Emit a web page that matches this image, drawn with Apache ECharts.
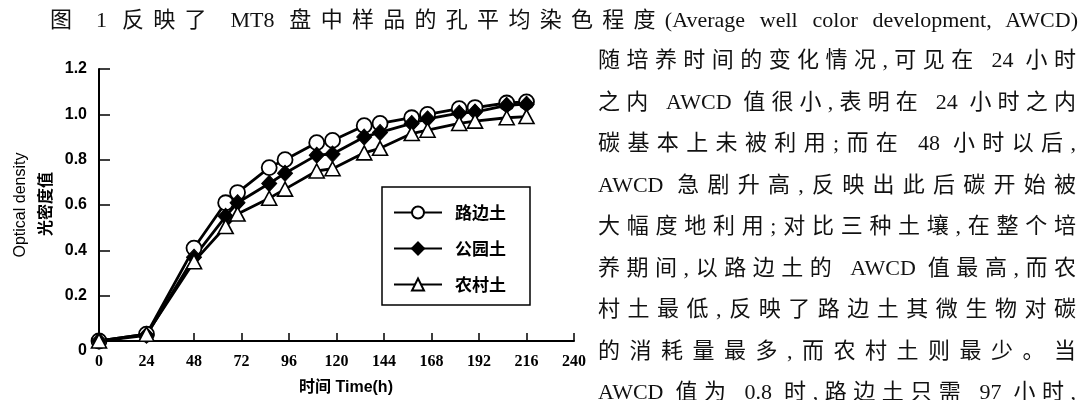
<!DOCTYPE html>
<html>
<head>
<meta charset="utf-8">
<script src="https://cdn.jsdelivr.net/npm/echarts@6/dist/echarts.min.js"></script>
<style>
  html, body { margin: 0; padding: 0; background: #fff; }
  #page { position: relative; width: 1082px; height: 400px; overflow: hidden; background: #fff; }
  #chart { position: absolute; left: 0; top: 0; width: 1082px; height: 400px; }
  .line {
    position: absolute; height: 30px; line-height: 30px; white-space: nowrap;
    font-family: "Liberation Serif", "Noto Sans CJK SC", serif;
    font-size: 22px; color: #111;
    text-align: justify; text-align-last: justify;
  }
</style>
</head>
<body>
<div id="page">
  <div id="chart"></div>
</div>
<script>
// Incubation time (h) at each reading
const hours = [0, 24, 48, 64, 70, 86, 94, 110, 118, 134, 142, 158, 166, 182, 190, 206, 216];
// Average well color development (optical density) per soil
const roadside = [0, 0.03, 0.41, 0.61, 0.655, 0.765, 0.80, 0.875, 0.885, 0.95, 0.96, 0.985, 1.00, 1.025, 1.03, 1.05, 1.055];
const park     = [0, 0.025, 0.37, 0.55, 0.61, 0.695, 0.74, 0.82, 0.825, 0.90, 0.92, 0.96, 0.98, 1.005, 1.01, 1.04, 1.045];
const rural    = [0, 0.03, 0.35, 0.505, 0.56, 0.63, 0.67, 0.75, 0.76, 0.83, 0.85, 0.915, 0.93, 0.96, 0.97, 0.985, 0.99];
const seriesNames = ['路边土', '公园土', '农村土'];
const xTicks = [0, 24, 48, 72, 96, 120, 144, 168, 192, 216, 240];
const yTicks = [0, 0.2, 0.4, 0.6, 0.8, 1.0, 1.2];

// Surrounding article text
const headerText = '图 1 反映了 MT8 盘中样品的孔平均染色程度(Average well color development, AWCD)';
const bodyLines = [
  '随培养时间的变化情况,可见在 24 小时',
  '之内 AWCD 值很小,表明在 24 小时之内',
  '碳基本上未被利用;而在 48 小时以后,',
  'AWCD 急剧升高,反映出此后碳开始被',
  '大幅度地利用;对比三种土壤,在整个培',
  '养期间,以路边土的 AWCD 值最高,而农',
  '村土最低,反映了路边土其微生物对碳',
  '的消耗量最多,而农村土则最少。当',
  'AWCD 值为 0.8 时,路边土只需 97 小时,'
];

const page = document.getElementById('page');
function addLine(text, left, centerY, width) {
  const d = document.createElement('div');
  d.className = 'line';
  d.textContent = text;
  d.style.left = left + 'px';
  d.style.top = (centerY - 15) + 'px';
  d.style.width = width + 'px';
  page.appendChild(d);
}
addLine(headerText, 50, 20, 1028);
bodyLines.forEach((t, i) => addLine(t, 598, 60 + i * 41.5, 478));

const pairs = arr => hours.map((h, i) => [h, arr[i]]);

const chart = echarts.init(document.getElementById('chart'), null, { renderer: 'canvas' });

const lineBase = {
  type: 'line',
  symbolSize: 15,
  lineStyle: { color: '#000', width: 2.8 },
  emphasis: { disabled: true },
  animation: false
};

chart.setOption({
  backgroundColor: 'transparent',
  animation: false,
  grid: { left: 99, top: 69, width: 475, height: 272, containLabel: false },
  xAxis: {
    type: 'value', min: 0, max: 240, interval: 24,
    axisLine: { show: true, lineStyle: { color: '#000', width: 2 } },
    axisTick: { show: true, inside: true, length: 8, lineStyle: { color: '#000', width: 1.5 } },
    splitLine: { show: false },
    axisLabel: {
      margin: 13, color: '#000', fontSize: 16, fontWeight: 'bold',
      fontFamily: 'Liberation Serif',
      customValues: xTicks
    }
  },
  yAxis: {
    type: 'value', min: 0, max: 1.2, interval: 0.2,
    axisLine: { show: true, lineStyle: { color: '#000', width: 2 } },
    axisTick: { show: true, inside: true, length: 11, lineStyle: { color: '#000', width: 1.5 } },
    splitLine: { show: false },
    axisLabel: {
      margin: 12, color: '#000', fontSize: 16, fontWeight: 'bold',
      fontFamily: 'Liberation Sans',
      formatter: v => v === 0 ? '{z|0}' : (Math.round(v * 10) / 10).toFixed(1),
      rich: { z: { padding: [20, 0, 0, 0], fontSize: 16, fontWeight: 'bold', fontFamily: 'Liberation Sans', color: '#000' } }
    }
  },
  legend: {
    orient: 'vertical', left: 382, top: 187,
    itemWidth: 48, itemHeight: 15, itemGap: 19,
    padding: [17, 24, 12, 11],
    borderColor: '#000', borderWidth: 1.5, backgroundColor: '#fff',
    selectedMode: false,
    textStyle: { color: '#000', fontSize: 17, fontWeight: 'bold', fontFamily: 'Noto Sans CJK SC', padding: [0, 0, 0, 8] },
    data: seriesNames
  },
  series: [
    Object.assign({}, lineBase, {
      name: seriesNames[0], symbol: 'circle',
      itemStyle: { color: '#fff', borderColor: '#000', borderWidth: 1.8 },
      data: pairs(roadside)
    }),
    Object.assign({}, lineBase, {
      name: seriesNames[1], symbol: 'diamond', symbolSize: [15, 16],
      itemStyle: { color: '#000', borderColor: '#000', borderWidth: 1 },
      data: pairs(park)
    }),
    Object.assign({}, lineBase, {
      name: seriesNames[2], symbol: 'triangle', symbolSize: [15, 14],
      itemStyle: { color: '#fff', borderColor: '#000', borderWidth: 1.6 },
      data: pairs(rural)
    })
  ],
  graphic: [
    {
      type: 'text', x: 21, y: 205, rotation: Math.PI / 2,
      style: { text: 'Optical density', x: 0, y: 0, align: 'center', verticalAlign: 'middle',
        fontSize: 16, fontFamily: 'Liberation Sans', fill: '#000' }
    },
    {
      type: 'text', x: 45, y: 204, rotation: Math.PI / 2,
      style: { text: '光密度值', x: 0, y: 0, align: 'center', verticalAlign: 'middle',
        fontSize: 16, fontWeight: 'bold', fontFamily: 'Noto Sans CJK SC', fill: '#000' }
    },
    {
      type: 'text', x: 346, y: 388,
      style: { text: '时间 Time(h)', x: 0, y: 0, align: 'center', verticalAlign: 'middle',
        fontSize: 16, fontWeight: 'bold', fontFamily: 'Liberation Sans, Noto Sans CJK SC', fill: '#000' }
    }
  ]
});
</script>
</body>
</html>
